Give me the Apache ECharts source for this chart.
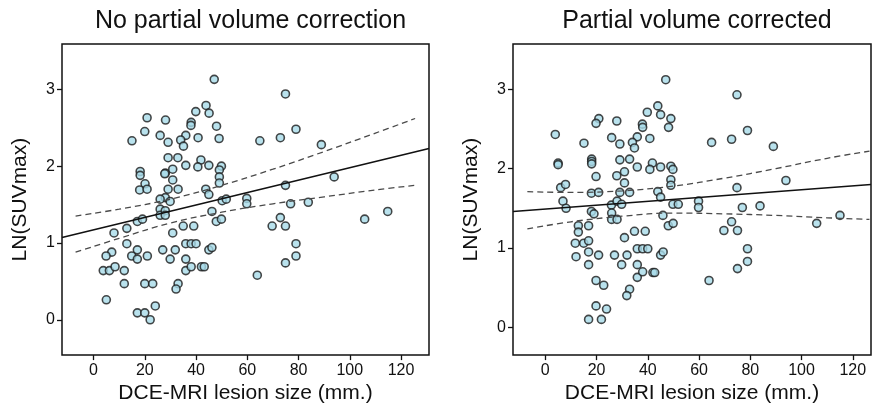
<!DOCTYPE html>
<html>
<head>
<meta charset="utf-8">
<script src="https://cdn.jsdelivr.net/npm/echarts@6/dist/echarts.min.js"></script>
<style>
html,body{margin:0;padding:0;background:#fff;}
#c{width:873px;height:409px;}
</style>
</head>
<body>
<div id="c"></div>
<script>
// ---- Data ----
const titles = ['No partial volume correction', 'Partial volume corrected'];
const xAxisName = 'DCE-MRI lesion size (mm.)';
const yAxisName = 'LN(SUVmax)';
const xTicks = [0, 20, 40, 60, 80, 100, 120];
const yTicks = [0, 1, 2, 3];

// Left panel: no partial volume correction
const sizeL = [47.1,43.9,45.1,39.9,20.9,28.1,38.1,38.0,48.0,20.0,26.0,36.0,40.8,49.0,15.0,29.1,34.0,35.1,29.1,32.9,
  36.0,41.9,40.7,45.0,49.9,49.1,18.2,18.2,28.0,30.9,27.8,30.9,49.1,49.1,20.1,18.0,20.9,29.1,33.0,43.8,
  45.0,28.0,26.0,29.9,26.0,26.0,28.0,28.0,50.2,51.8,46.2,47.9,49.9,17.1,19.1,8.0,13.0,30.9,35.0,39.1,
  13.0,36.0,38.1,40.0,7.1,4.9,17.1,14.9,17.1,21.0,27.0,31.9,29.9,36.0,45.0,46.2,3.8,6.2,8.4,12.0,
  36.0,38.1,42.1,43.2,12.0,20.0,23.1,33.0,32.2,5.0,24.1,17.1,20.0,22.1,
  74.9,64.9,72.9,79.0,88.9,93.9,74.9,59.8,59.8,76.9,83.8,72.9,69.7,74.9,105.8,114.8,79.0,79.0,74.9,63.9];
const lnL = [3.13,2.79,2.69,2.71,2.63,2.60,2.57,2.53,2.52,2.45,2.40,2.40,2.37,2.36,2.33,2.31,2.34,2.26,2.11,2.11,
  2.01,2.08,1.99,2.01,2.00,1.95,1.93,1.88,1.91,1.96,1.90,1.82,1.86,1.78,1.77,1.69,1.70,1.70,1.70,1.70,
  1.63,1.59,1.57,1.54,1.44,1.36,1.42,1.36,1.55,1.57,1.41,1.28,1.31,1.28,1.31,1.13,1.19,1.13,1.22,1.22,
  0.99,0.99,0.99,0.99,0.88,0.83,0.91,0.83,0.79,0.83,0.91,0.91,0.79,0.79,0.91,0.94,0.64,0.64,0.69,0.64,
  0.64,0.69,0.69,0.69,0.47,0.47,0.47,0.47,0.40,0.26,0.18,0.09,0.09,0.00,
  2.94,2.33,2.37,2.48,2.28,1.86,1.75,1.58,1.51,1.51,1.53,1.33,1.22,1.22,1.31,1.41,0.99,0.83,0.74,0.58];

// Right panel: partial volume corrected
const sizeR = [47.0,43.9,45.0,49.0,39.8,20.9,19.8,27.9,37.9,38.0,48.1,3.9,25.9,35.9,40.8,15.1,29.1,34.0,34.8,5.0,
  5.0,18.1,18.1,18.1,29.1,32.9,35.9,41.8,40.8,45.0,49.0,49.8,19.8,27.9,30.9,30.9,49.0,49.0,6.0,7.9,
  18.0,20.8,29.1,32.9,43.9,45.0,6.9,8.1,18.0,19.0,25.8,28.0,29.8,25.9,25.9,28.0,49.8,51.9,45.9,48.0,
  49.9,12.9,12.9,16.9,11.7,15.0,16.9,16.9,12.0,16.9,20.8,30.9,34.8,39.0,27.0,31.9,29.8,35.9,38.0,40.0,
  35.9,35.9,38.0,42.0,42.7,45.0,46.0,19.8,22.8,32.9,31.8,19.8,23.9,16.9,21.9,
  74.8,64.9,72.7,78.9,89.0,93.9,74.8,59.8,59.8,76.9,83.8,72.7,69.7,75.0,105.9,115.0,78.9,78.9,75.0,63.9];
const lnR = [3.12,2.79,2.68,2.63,2.71,2.63,2.57,2.60,2.56,2.52,2.52,2.43,2.39,2.40,2.38,2.32,2.31,2.33,2.26,2.07,
  2.05,2.12,2.09,2.06,2.11,2.12,2.02,2.07,1.99,2.02,2.03,1.99,1.90,1.91,1.96,1.82,1.86,1.79,1.76,1.80,
  1.69,1.70,1.70,1.70,1.71,1.64,1.59,1.50,1.46,1.43,1.54,1.59,1.55,1.44,1.36,1.36,1.55,1.55,1.41,1.28,
  1.31,1.28,1.20,1.28,1.06,1.06,1.09,0.95,0.89,0.79,0.91,1.13,1.21,1.21,0.91,0.91,0.79,0.99,0.99,0.99,
  0.79,0.63,0.70,0.69,0.69,0.91,0.95,0.59,0.53,0.48,0.40,0.27,0.23,0.10,0.10,
  2.93,2.33,2.37,2.48,2.28,1.85,1.76,1.59,1.51,1.51,1.53,1.33,1.22,1.22,1.31,1.41,0.99,0.83,0.74,0.59];

// Fit lines and confidence bands
const fitLX = [-12.3, 130.9];
const fitLY = [1.07, 2.23];
const bandLX = [-7, 10, 30, 50, 70, 90, 110, 125.5];
const bandLUpper = [1.35, 1.44, 1.57, 1.75, 1.96, 2.19, 2.43, 2.62];
const bandLLower = [0.88, 1.06, 1.26, 1.40, 1.51, 1.60, 1.69, 1.75];

const fitRX = [-12.6, 127.1];
const fitRY = [1.46, 1.80];
const bandRX = [-7, 10, 30, 50, 70, 90, 110, 126.5];
const bandRUpper = [1.71, 1.70, 1.72, 1.78, 1.88, 2.00, 2.13, 2.22];
const bandRLower = [1.24, 1.33, 1.40, 1.44, 1.43, 1.41, 1.38, 1.36];

// ---- Font choice: condensed face if installed ----
function hasFont(name) {
  const ctx = document.createElement('canvas').getContext('2d');
  const s = 'DCE-MRI lesion size (mm.) 0123456789';
  ctx.font = '40px monospace';
  const w1 = ctx.measureText(s).width;
  ctx.font = '40px "' + name + '", monospace';
  const w2 = ctx.measureText(s).width;
  return Math.abs(w1 - w2) > 0.5;
}
const NARROW = hasFont('Liberation Sans Narrow');
const FONT = NARROW ? '"Liberation Sans Narrow", "Liberation Sans", Arial, sans-serif'
                    : '"Liberation Sans", Arial, sans-serif';
const K = NARROW ? 1.18 : 1.0;
const FS_TITLE = 25 * K, FS_NAME = 21 * K, FS_TICK = 16 * K;
const INK = '#111';
const zip = (a, b) => a.map((v, i) => [v, b[i]]);

const panels = [
  {left: 62, width: 367, xmin: -12.3, xmax: 130.9, ymin: -0.46, ymax: 3.59},
  {left: 513, width: 358, xmin: -12.6, xmax: 127.1, ymin: -0.35, ymax: 3.57}
];

function xAx(i, p) {
  return {
    type: 'value', gridIndex: i, min: p.xmin, max: p.xmax,
    splitLine: {show: false},
    axisLine: {show: false, onZero: false},
    axisTick: {show: true, customValues: xTicks, length: 5, lineStyle: {color: INK, width: 1.3}},
    axisLabel: {customValues: xTicks, fontSize: FS_TICK, color: INK, margin: 7, fontFamily: FONT},
    name: xAxisName, nameLocation: 'middle', nameGap: NARROW ? 24 : 27,
    nameTextStyle: {fontSize: FS_NAME, color: INK, fontFamily: FONT}
  };
}
function yAx(i, p) {
  return {
    type: 'value', gridIndex: i, min: p.ymin, max: p.ymax,
    splitLine: {show: false},
    axisLine: {show: false, onZero: false},
    axisTick: {show: true, customValues: yTicks, length: 5, lineStyle: {color: INK, width: 1.3}},
    axisLabel: {customValues: yTicks, fontSize: FS_TICK, color: INK, margin: 7, fontFamily: FONT},
    name: yAxisName, nameLocation: 'middle', nameGap: NARROW ? 30 : 31,
    nameTextStyle: {fontSize: FS_NAME, color: INK, fontFamily: FONT}
  };
}

const scatterStyle = {color: '#a8dbe8', borderColor: '#1a1a1a', borderWidth: 1.6};
function scatter(i, xs, ys) {
  return {type: 'scatter', xAxisIndex: i, yAxisIndex: i, data: zip(xs, ys),
    symbol: 'circle', symbolSize: 8, itemStyle: scatterStyle, z: 2};
}
function line(i, xs, ys, dashed) {
  return {type: 'line', xAxisIndex: i, yAxisIndex: i, data: zip(xs, ys),
    showSymbol: false, smooth: dashed ? 0.4 : false, clip: true, z: 3,
    lineStyle: dashed ? {color: '#4a4a4a', width: 1.3, type: [6, 4]} : {color: INK, width: 1.6}};
}

const chart = echarts.init(document.getElementById('c'), null, {renderer: 'canvas'});
chart.setOption({
  animation: false,
  backgroundColor: '#fff',
  title: [
    {text: titles[0], left: 62 + 367 / 2, top: NARROW ? 2 : 4, textAlign: 'center',
      textStyle: {fontFamily: FONT, fontSize: FS_TITLE, fontWeight: 'normal', color: INK}},
    {text: titles[1], left: 513 + 358 / 2, top: NARROW ? 2 : 4, textAlign: 'center',
      textStyle: {fontFamily: FONT, fontSize: FS_TITLE, fontWeight: 'normal', color: INK}}
  ],
  grid: panels.map(p => ({left: p.left, width: p.width, top: 44, height: 313,
    show: true, borderColor: INK, borderWidth: 1.5, backgroundColor: '#fff'})),
  xAxis: panels.map((p, i) => xAx(i, p)),
  yAxis: panels.map((p, i) => yAx(i, p)),
  series: [
    scatter(0, sizeL, lnL),
    line(0, fitLX, fitLY, false),
    line(0, bandLX, bandLUpper, true),
    line(0, bandLX, bandLLower, true),
    scatter(1, sizeR, lnR),
    line(1, fitRX, fitRY, false),
    line(1, bandRX, bandRUpper, true),
    line(1, bandRX, bandRLower, true)
  ]
});
</script>
</body>
</html>
